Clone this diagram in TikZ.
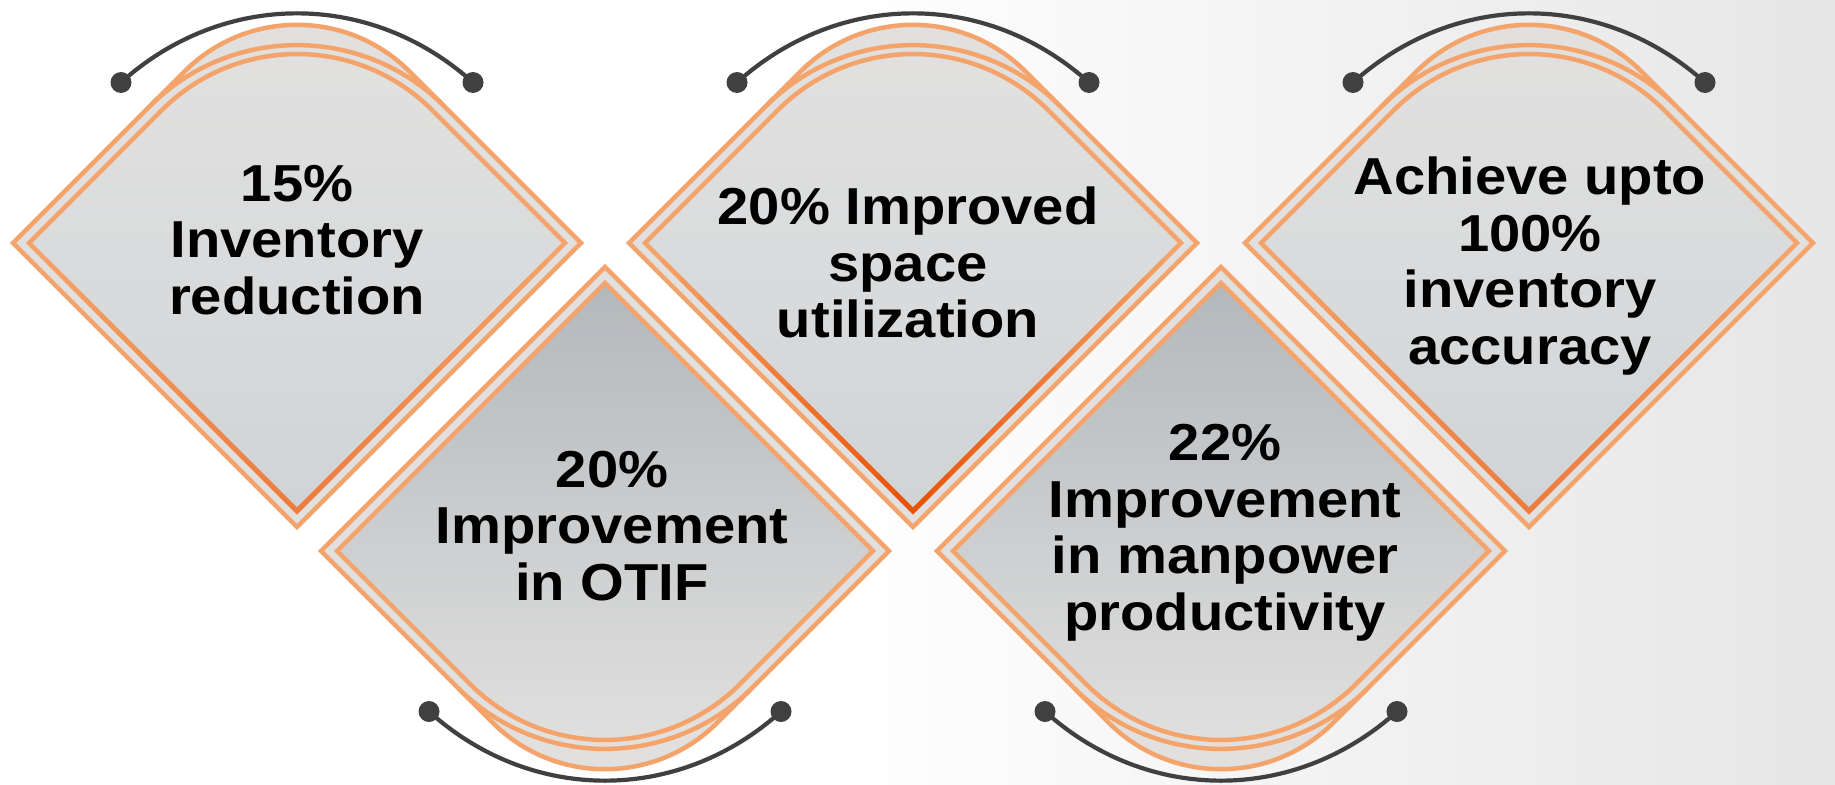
\documentclass[tikz,border=0pt]{standalone}
\usepackage{fontspec}
\setmainfont{Liberation Sans}
\newfontfamily\kpifont[FakeStretch=1.08]{Liberation Sans}
\definecolor{orl}{HTML}{F4A36A}
\definecolor{ordA}{HTML}{EE7C3A}
\definecolor{ordB}{HTML}{E85508}
\definecolor{band}{HTML}{E1E0DF}
\definecolor{upT}{HTML}{E2E1E0}
\definecolor{upB}{HTML}{D0D4D7}
\definecolor{loT}{HTML}{B3B8BC}
\definecolor{loM}{HTML}{D2D3D4}
\definecolor{loB}{HTML}{E2E1E0}
\definecolor{conn}{HTML}{404040}
\definecolor{bgR}{HTML}{E6E6E6}
\tikzset{
  outerline/.style={draw=orl, line width=4.5pt, line join=miter},
  innerline/.style={draw=orl, line width=4.5pt, line join=miter},
  conline/.style={draw=conn, line width=4.2pt},
  condot/.style={circle, fill=conn, inner sep=0pt, minimum size=21pt},
  kpitext/.style={align=center, text=black, anchor=base,
    font=\kpifont\bfseries\fontsize{52}{56.5}\selectfont},
  upfill/.style={top color=upT, bottom color=upB},
  lofill/.style={top color=loT, middle color=loM, bottom color=loB},
}
% #1 cx, #2 cy, #3 sign (1 upper, -1 lower), #4 fill style, #5 name
\newcommand\kpishape[5]{%
  \begin{scope}[shift={(#1,#2)}]
    \fill[band] (-284,0) -- (-112.4,{#3*-171.6})
      .. controls (-50.3,{#3*-233.7}) and (50.3,{#3*-233.7}) .. (112.4,{#3*-171.6})
      -- (284,0) -- (0,{#3*284}) -- cycle;
    \path[#4] (-268,0) -- (-135,{#3*-133})
      .. controls (-60.4,{#3*-207.6}) and (60.4,{#3*-207.6}) .. (135,{#3*-133})
      -- (268,0) -- (0,{#3*268}) -- cycle;
    \draw[outerline] (-284,0) -- (-112.4,{#3*-171.6})
      .. controls (-50.3,{#3*-233.7}) and (50.3,{#3*-233.7}) .. (112.4,{#3*-171.6})
      -- (284,0) -- (0,{#3*284}) -- cycle;
    \draw[outerline] (-147,{#3*-137})
      .. controls (-65.8,{#3*-218.2}) and (65.8,{#3*-218.2}) .. (147,{#3*-137});
    \draw[innerline] (-268,0) -- (-135,{#3*-133})
      .. controls (-60.4,{#3*-207.6}) and (60.4,{#3*-207.6}) .. (135,{#3*-133})
      -- (268,0) -- (0,{#3*268}) -- cycle;
    \node[condot] (#5l) at (-176,{#3*-160.5}) {};
    \node[condot] (#5r) at (176,{#3*-160.5}) {};
    \draw[conline] (#5l.center) .. controls (-73.6,{#3*-252.7}) and (73.6,{#3*-252.7}) .. (#5r.center);
  \end{scope}%
}
% darker gradient on the lower V of the inner outline: #1 cx, #2 dark colour
\newcommand\kpigrad[2]{%
  \begin{scope}[shift={(#1,243)}]
    \foreach \k in {1,...,14}{%
      \pgfmathsetmacro\f{1-\k/15}%
      \pgfmathtruncatemacro\pct{100*\k/14}%
      \draw[draw=#2!\pct!orl, line width=4.5pt, line join=miter]
        ({-268*\f},{268*(1-\f)}) -- (0,268) -- ({268*\f},{268*(1-\f)});
    }
  \end{scope}%
}
\begin{document}
\begin{tikzpicture}[x=1pt,y=-1pt]
  \useasboundingbox (0,0) rectangle (1835,784);
  \fill[white] (0,0) rectangle (830,784);
  \shade[left color=white, right color=bgR] (829,0) rectangle (1835,784);

  \kpishape{297}{243}{1}{upfill}{sa}
  \kpigrad{297}{ordA}
  \kpishape{605}{551}{-1}{lofill}{sb}
  \kpishape{913}{243}{1}{upfill}{sc}
  \kpigrad{913}{ordB}
  \kpishape{1221}{551}{-1}{lofill}{sd}
  \kpishape{1529}{243}{1}{upfill}{se}
  \kpigrad{1529}{ordA}

  \node[kpitext] (ta) at (297,314) {15\%\\Inventory\\reduction};
  \node[kpitext] (tb) at (612,600) {20\%\\Improvement\\in OTIF};
  \node[kpitext] (tc) at (908,337.5) {20\% Improved\\space\\utilization};
  \node[kpitext] (td) at (1225,630) {22\%\\Improvement\\in manpower\\productivity};
  \node[kpitext] (te) at (1530,364) {Achieve upto\\100\%\\inventory\\accuracy};
\end{tikzpicture}
\end{document}
